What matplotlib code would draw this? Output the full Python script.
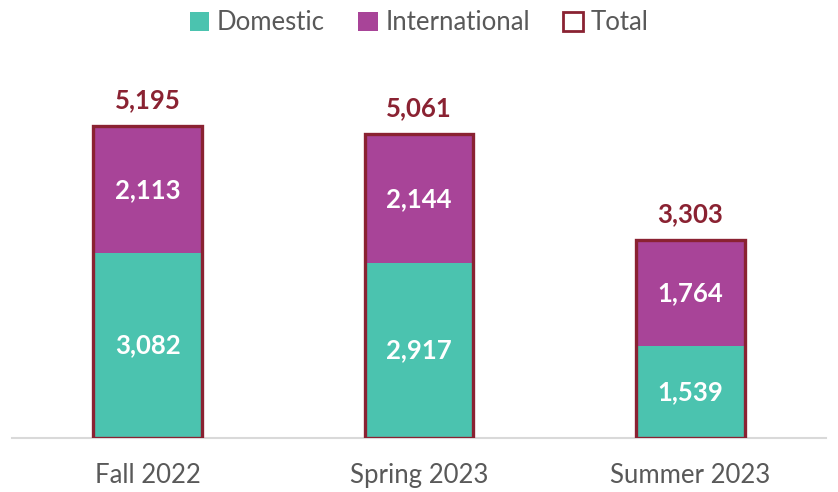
import matplotlib.pyplot as plt
from matplotlib.patches import Patch

plt.rcParams['font.family'] = ['Lato', 'DejaVu Sans']

terms = ['Fall 2022', 'Spring 2023', 'Summer 2023']
domestic = [3082, 2917, 1539]
international = [2113, 2144, 1764]
total = [d + i for d, i in zip(domestic, international)]

teal = '#4BC3AF'
purple = '#A84498'
maroon = '#8A2232'
grey = '#595959'

fig = plt.figure(figsize=(8.38, 4.92), dpi=100)
ax = fig.add_axes([12 / 838, 54 / 492, 814 / 838, 378 / 492])

x = range(len(terms))
w = 0.4
ax.bar(x, domestic, w, color=teal, zorder=2)
ax.bar(x, international, w, bottom=domestic, color=purple, zorder=2)
ax.bar(x, total, w, facecolor='none', edgecolor=maroon, linewidth=2.4, zorder=3)

for i in x:
    ax.text(i, domestic[i] / 2, f'{domestic[i]:,}', ha='center', va='center',
            color='white', fontsize=18.5, fontweight='bold')
    ax.text(i, domestic[i] + international[i] / 2, f'{international[i]:,}', ha='center',
            va='center', color='white', fontsize=18.5, fontweight='bold')
    ax.text(i, total[i] + 430, f'{total[i]:,}', ha='center', va='center',
            color=maroon, fontsize=18.5, fontweight='bold')

ax.set_xlim(-0.5, 2.5)
ax.set_ylim(0, 6300)
ax.set_yticks([])
ax.set_xticks(list(x))
ax.set_xticklabels(terms, fontsize=18.5, color=grey)
ax.tick_params(axis='x', length=0, pad=18)
for s in ['top', 'right', 'left']:
    ax.spines[s].set_visible(False)
ax.spines['bottom'].set_color('#D9D9D9')
ax.spines['bottom'].set_linewidth(1.5)

handles = [Patch(facecolor=teal, label='Domestic'),
           Patch(facecolor=purple, label='International'),
           Patch(facecolor='white', edgecolor=maroon, linewidth=2, label='Total')]
leg = fig.legend(handles=handles, loc='center', bbox_to_anchor=(0.5, 1 - 23 / 492),
                 ncol=3, frameon=False, fontsize=18.5, handlelength=0.75, handleheight=0.75,
                 handletextpad=0.3, columnspacing=1.3)
for t in leg.get_texts():
    t.set_color(grey)

fig.savefig('out.png', dpi=100)
